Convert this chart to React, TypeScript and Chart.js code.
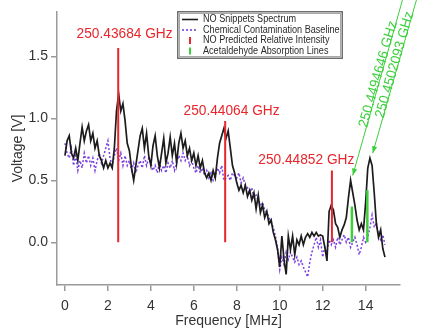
import { useEffect, useRef } from "react";
import { Chart, registerables } from "chart.js";

Chart.register(...registerables);

// ---------------- data ----------------
const FREQ_STEP = 0.1; // MHz sampling of both traces, starting at 0

const SPECTRUM = [
  0.70, 0.82, 0.86, 0.72, 0.68, 0.76, 0.66, 0.80, 0.93, 0.82,
  0.90, 0.95, 0.82, 0.88, 0.76, 0.82, 0.70, 0.66, 0.60, 0.66,
  0.60, 0.64, 0.60, 0.76, 1.06, 1.20, 1.06, 1.12, 0.98, 0.80,
  0.74, 0.60, 0.50, 0.62, 0.74, 0.86, 0.92, 0.76, 0.88, 0.70,
  0.62, 0.78, 0.86, 0.70, 0.60, 0.72, 0.84, 0.64, 0.72, 0.85,
  0.70, 0.80, 0.64, 0.80, 0.88, 0.76, 0.82, 0.70, 0.76, 0.66,
  0.72, 0.62, 0.70, 0.60, 0.66, 0.56, 0.52, 0.56, 0.50, 0.58,
  0.52, 0.68, 0.80, 0.86, 0.92, 0.84, 0.90, 0.76, 0.62, 0.56,
  0.48, 0.42, 0.46, 0.40, 0.46, 0.37, 0.42, 0.34, 0.40, 0.27,
  0.38, 0.24, 0.30, 0.20, 0.25, 0.15, 0.18, 0.08, 0.02, -0.06,
  -0.20, 0.05, -0.14, -0.26, 0.05, -0.06, 0.05, -0.10, 0.02, -0.02,
  0.05, -0.02, 0.04, 0.07, 0.04, 0.08, 0.05, 0.08, 0.05, 0.06,
  0.05, -0.04, -0.15, 0.25, 0.30, 0.26, 0.15, 0.12, 0.04, 0.10,
  0.14, 0.20, 0.36, 0.50, 0.40, 0.30, 0.18, 0.10, 0.15, 0.10,
  0.32, 0.60, 0.68, 0.62, 0.40, 0.15, 0.04, 0.10, -0.05, -0.12,
];

const BASELINE = [
  0.80, 0.72, 0.68, 0.76, 0.62, 0.70, 0.58, 0.66, 0.60, 0.72,
  0.64, 0.70, 0.62, 0.68, 0.58, 0.66, 0.72, 0.64, 0.70, 0.76,
  0.82, 0.68, 0.62, 0.70, 0.76, 0.66, 0.72, 0.62, 0.70, 0.62,
  0.66, 0.58, 0.64, 0.56, 0.62, 0.66, 0.60, 0.70, 0.62, 0.68,
  0.64, 0.58, 0.62, 0.56, 0.64, 0.58, 0.62, 0.56, 0.64, 0.60,
  0.66, 0.58, 0.64, 0.70, 0.66, 0.72, 0.66, 0.70, 0.62, 0.66,
  0.60, 0.56, 0.62, 0.56, 0.60, 0.54, 0.58, 0.52, 0.56, 0.50,
  0.54, 0.60, 0.56, 0.62, 0.50, 0.52, 0.54, 0.50, 0.56, 0.54,
  0.52, 0.56, 0.48, 0.52, 0.46, 0.44, 0.40, 0.44, 0.36, 0.38,
  0.34, 0.30, 0.32, 0.26, 0.24, 0.20, 0.16, 0.12, 0.05, -0.05,
  -0.22, -0.12, -0.18, -0.08, -0.14, -0.08, -0.12, -0.16, -0.12, -0.18,
  -0.15, -0.20, -0.24, -0.28, -0.16, -0.08, -0.02, 0.04, -0.04, 0.02,
  -0.12, -0.04, -0.08, 0.02, -0.02, 0.02, -0.04, 0.04, -0.02, 0.02,
  0.06, 0.00, 0.04, -0.04, 0.00, 0.04, -0.02, -0.10, -0.04, 0.04,
  0.00, 0.04, 0.12, 0.22, 0.12, 0.16, 0.06, 0.02, 0.06, -0.02,
];

const NO_LINE_FREQS = [2.48, 7.46, 12.43];
const NO_LINE_INTENSITY = [1.57, 0.98, 0.58];
const NO_LINE_LABELS = ["250.43684 GHz", "250.44064 GHz", "250.44852 GHz"];

const ACET_FREQS = [13.36, 14.08];
const ACET_INTENSITY = [0.29, 0.42];
const ACET_LABELS = ["250.4494646 GHz", "250.4502093 GHz"];
// arrow tip (peak it points to) and arrow start, in data units
const ACET_ARROW_TIP_X = [13.4, 14.33];
const ACET_ARROW_TIP_Y = [0.54, 0.72];
const ACET_ARROW_START_X = [15.72, 16.37];
const ACET_ARROW_START_Y = [1.96, 1.96];

const X_TICKS = [0, 2, 4, 6, 8, 10, 12, 14];
const Y_TICKS = [0, 0.5, 1.0, 1.5];

const LEGEND_LABELS = [
  "NO Snippets Spectrum",
  "Chemical Contamination Baseline",
  "NO Predicted Relative Intensity",
  "Acetaldehyde Absorption Lines",
];

// ---------------- style ----------------
const FONT = '"Liberation Sans", Arial, Helvetica, sans-serif';
const TEXT = "#333333";
const AXIS = "#9a9a9a";
const BLACK = "#1c1c1c";
const PURPLE = "#7a3fe2";
const RED = "#e8262b";
const GREEN = "#3ccf3c";

const STYLE = {
  redLabelDx: [6.4, 6.4, -25.6],
  redLabelDy: [-10.4, -6.4, -6],
  redLabelWidth: 96,
  greenTextFrac: 0.57,
  greenTextShift: -3,
  greenTextWidth: 110,
  legend: { x: 177, y: 11, w: 166, h: 48, rowY: [19.5, 30, 40.5, 51], sampleX0: 182, sampleX1: 198, textX: 203 },
};

const annotationPlugin = {
  id: "spectrumAnnotations",
  afterDatasetsDraw(chart: any) {
    const { ctx, scales } = chart;
    const xs = scales.x;
    const ys = scales.y;
    ctx.save();

    // red labels
    ctx.fillStyle = RED;
    ctx.font = `15px ${FONT}`;
    ctx.textAlign = "center";
    ctx.textBaseline = "alphabetic";
    NO_LINE_FREQS.forEach((f, i) => {
      const px = xs.getPixelForValue(f) + STYLE.redLabelDx[i];
      const py = ys.getPixelForValue(NO_LINE_INTENSITY[i]) + STYLE.redLabelDy[i];
      ctx.fillText(NO_LINE_LABELS[i], px, py, STYLE.redLabelWidth);
    });

    // green arrows + rotated labels
    ACET_LABELS.forEach((label, i) => {
      const tx = xs.getPixelForValue(ACET_ARROW_TIP_X[i]);
      const ty = ys.getPixelForValue(ACET_ARROW_TIP_Y[i]);
      const sx = xs.getPixelForValue(ACET_ARROW_START_X[i]);
      const sy = ys.getPixelForValue(ACET_ARROW_START_Y[i]);
      ctx.strokeStyle = GREEN;
      ctx.fillStyle = GREEN;
      ctx.lineWidth = 1;
      ctx.beginPath();
      ctx.moveTo(sx, sy);
      ctx.lineTo(tx, ty);
      ctx.stroke();
      const a = Math.atan2(ty - sy, tx - sx);
      const L = 7;
      const W = 2.6;
      ctx.beginPath();
      ctx.moveTo(tx, ty);
      ctx.lineTo(tx - L * Math.cos(a) + W * Math.sin(a), ty - L * Math.sin(a) - W * Math.cos(a));
      ctx.lineTo(tx - L * Math.cos(a) - W * Math.sin(a), ty - L * Math.sin(a) + W * Math.cos(a));
      ctx.closePath();
      ctx.fill();
      const cx = tx + STYLE.greenTextFrac * (sx - tx);
      const cy = ty + STYLE.greenTextFrac * (sy - ty);
      ctx.save();
      ctx.translate(cx, cy);
      ctx.rotate(Math.atan2(sy - ty, sx - tx));
      ctx.font = `14px ${FONT}`;
      ctx.textAlign = "center";
      ctx.textBaseline = "middle";
      ctx.fillText(label, 0, STYLE.greenTextShift, STYLE.greenTextWidth);
      ctx.restore();
    });

    // legend box
    const lg = STYLE.legend;
    ctx.fillStyle = "#ffffff";
    ctx.fillRect(lg.x, lg.y, lg.w, lg.h);
    ctx.strokeStyle = "#6e6e6e";
    ctx.lineWidth = 1.5;
    ctx.strokeRect(lg.x + 0.75, lg.y + 0.75, lg.w - 1.5, lg.h - 1.5);
    ctx.strokeStyle = "#a8a8a8";
    ctx.lineWidth = 1;
    ctx.strokeRect(lg.x + 2.5, lg.y + 2.5, lg.w - 5, lg.h - 5);

    const mid = (lg.sampleX0 + lg.sampleX1) / 2;
    ctx.lineWidth = 1.6;
    ctx.strokeStyle = BLACK;
    ctx.beginPath();
    ctx.moveTo(lg.sampleX0, lg.rowY[0]);
    ctx.lineTo(lg.sampleX1, lg.rowY[0]);
    ctx.stroke();
    ctx.strokeStyle = PURPLE;
    ctx.setLineDash([2, 2]);
    ctx.beginPath();
    ctx.moveTo(lg.sampleX0, lg.rowY[1]);
    ctx.lineTo(lg.sampleX1, lg.rowY[1]);
    ctx.stroke();
    ctx.setLineDash([]);
    ctx.lineWidth = 2;
    ctx.strokeStyle = RED;
    ctx.beginPath();
    ctx.moveTo(mid, lg.rowY[2] - 3.5);
    ctx.lineTo(mid, lg.rowY[2] + 3.5);
    ctx.stroke();
    ctx.strokeStyle = GREEN;
    ctx.beginPath();
    ctx.moveTo(mid, lg.rowY[3] - 3.5);
    ctx.lineTo(mid, lg.rowY[3] + 3.5);
    ctx.stroke();

    ctx.fillStyle = "#2a2a2a";
    ctx.font = `10px ${FONT}`;
    ctx.textAlign = "left";
    ctx.textBaseline = "middle";
    LEGEND_LABELS.forEach((t, i) => {
      const w = ctx.measureText(t).width * 0.91;
      ctx.fillText(t, lg.textX, lg.rowY[i], w);
    });

    ctx.restore();
  },
};

export default function App() {
  const ref = useRef<HTMLCanvasElement | null>(null);

  useEffect(() => {
    if (!ref.current) return;
    const spectrumPts = SPECTRUM.map((v, i) => ({ x: i * FREQ_STEP, y: v }));
    const baselinePts = BASELINE.map((v, i) => ({ x: i * FREQ_STEP, y: v }));
    const redPts = NO_LINE_FREQS.flatMap((f, i) => [
      { x: f, y: 0 },
      { x: f, y: NO_LINE_INTENSITY[i] },
      { x: f, y: null },
    ]);
    const greenPts = ACET_FREQS.flatMap((f, i) => [
      { x: f, y: 0 },
      { x: f, y: ACET_INTENSITY[i] },
      { x: f, y: null },
    ]);

    const chart = new Chart(ref.current, {
      type: "line",
      data: {
        datasets: [
          { label: LEGEND_LABELS[2], data: redPts as any, borderColor: RED, borderWidth: 2, pointRadius: 0, spanGaps: false },
          { label: LEGEND_LABELS[3], data: greenPts as any, borderColor: GREEN, borderWidth: 2.5, pointRadius: 0, spanGaps: false },
          { label: LEGEND_LABELS[0], data: spectrumPts, borderColor: BLACK, borderWidth: 1.7, pointRadius: 0, tension: 0 },
          { label: LEGEND_LABELS[1], data: baselinePts, borderColor: PURPLE, borderWidth: 1.5, borderDash: [2, 2], pointRadius: 0, tension: 0 },
        ],
      },
      options: {
        animation: false,
        responsive: false,
        devicePixelRatio: 1,
        layout: { padding: { top: 12, right: 21, left: 0, bottom: 0 } },
        plugins: { legend: { display: false }, tooltip: { enabled: false } },
        scales: {
          x: {
            type: "linear",
            min: -0.37,
            max: 15.6,
            afterBuildTicks: (s: any) => {
              s.ticks = X_TICKS.map((v) => ({ value: v }));
            },
            afterFit: (s: any) => {
              s.height = 43;
            },
            grid: { display: true, drawOnChartArea: false, drawTicks: true, tickLength: 6, color: AXIS, lineWidth: 1.5 },
            border: { display: true, color: AXIS, width: 1.5 },
            ticks: {
              color: TEXT,
              font: { family: FONT, size: 14 },
              padding: 7,
              maxRotation: 0,
              autoSkip: false,
              callback: (v: any) => String(v),
            },
            title: {
              display: true,
              text: "Frequency [MHz]",
              color: TEXT,
              font: { family: FONT, size: 14, lineHeight: 1 },
              padding: { top: 0, bottom: 0 },
            },
          },
          y: {
            type: "linear",
            min: -0.345,
            max: 1.86,
            afterBuildTicks: (s: any) => {
              s.ticks = Y_TICKS.map((v) => ({ value: v }));
            },
            afterFit: (s: any) => {
              s.width = 57;
            },
            grid: { display: true, drawOnChartArea: false, drawTicks: true, tickLength: 6, color: AXIS, lineWidth: 1.5 },
            border: { display: true, color: AXIS, width: 1.5 },
            ticks: {
              color: TEXT,
              font: { family: FONT, size: 14 },
              padding: 3,
              autoSkip: false,
              callback: (v: any) => Number(v).toFixed(1),
            },
            title: {
              display: true,
              text: "Voltage [V]",
              color: TEXT,
              font: { family: FONT, size: 14, lineHeight: 1 },
              padding: { top: 11, bottom: 0 },
            },
          },
        },
      },
      plugins: [annotationPlugin],
    });
    return () => chart.destroy();
  }, []);

  return (
    <div style={{ position: "fixed", left: 0, top: 0, width: 421, height: 328, background: "#fff" }}>
      <canvas ref={ref} width={421} height={328} style={{ width: 421, height: 328, display: "block" }} />
    </div>
  );
}
